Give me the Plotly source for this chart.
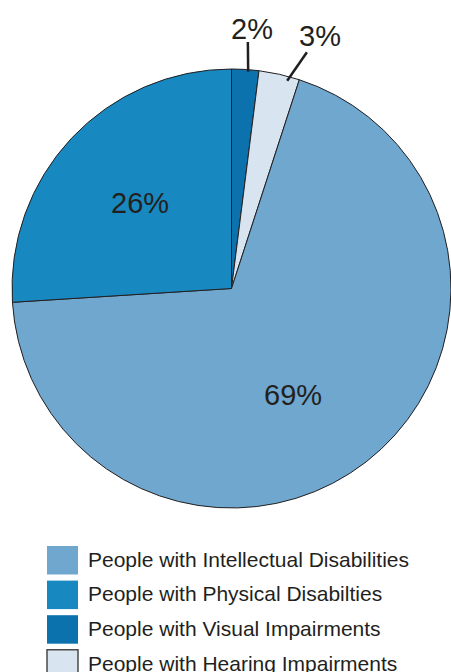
import math
import plotly.graph_objects as go

# Share of participants by type of disability (percent), clockwise from 12 o'clock
categories = [
    "People with Visual Impairments",
    "People with Hearing Impairments",
    "People with Intellectual Disabilities",
    "People with Physical Disabilties",
]
shares = [2, 3, 69, 26]
colors = ["#0b72ad", "#d8e5f1", "#6fa7cf", "#1888c0"]

# Order in which the key lists the groups
legend_order = [
    "People with Intellectual Disabilities",
    "People with Physical Disabilties",
    "People with Visual Impairments",
    "People with Hearing Impairments",
]

W, H = 451, 672
INK = "#231f20"
FONT = "Liberation Sans, Arial, Helvetica, sans-serif"

# Pie placement in pixels
PIE_LEFT, PIE_RIGHT, PIE_TOP, PIE_BOTTOM = 12, 451, 68, 509
cx = (PIE_LEFT + PIE_RIGHT) / 2
cy = (PIE_TOP + PIE_BOTTOM) / 2
R = min(PIE_RIGHT - PIE_LEFT, PIE_BOTTOM - PIE_TOP) / 2


def px(x):
    return x / W


def py(y):
    return 1 - y / H


def polar(angle_deg, r):
    a = math.radians(angle_deg)
    return cx + r * math.sin(a), cy - r * math.cos(a)


fig = go.Figure(
    go.Pie(
        labels=categories,
        values=shares,
        sort=False,
        direction="clockwise",
        rotation=0,
        marker=dict(colors=colors, line=dict(color=INK, width=1)),
        textinfo="none",
        hoverinfo="label+percent",
        domain=dict(x=[px(PIE_LEFT), px(PIE_RIGHT)], y=[py(PIE_BOTTOM), py(PIE_TOP)]),
    )
)

# Label placement: (angle offset from slice middle, radius as fraction of R)
label_place = {
    "People with Visual Impairments": (1.0, 1.185),
    "People with Hearing Impairments": (6.7, 1.22),
    "People with Intellectual Disabilities": (7.8, 0.56),
    "People with Physical Disabilties": (0.0, 0.57),
}
# Leader lines for the thin slices: (inner offset, inner r, outer offset, outer r)
leaders = {
    "People with Visual Impairments": (0.8, 0.99, 0.2, 1.125),
    "People with Hearing Impairments": (2.4, 0.98, 5.1, 1.13),
}

total = sum(shares)
annotations = []
shapes = []
start = 0.0
for name, v in zip(categories, shares):
    span = 360.0 * v / total
    mid = start + span / 2
    d, rf = label_place[name]
    lx, ly = polar(mid + d, rf * R)
    annotations.append(
        dict(
            x=px(lx), y=py(ly), xref="paper", yref="paper",
            text=f"{round(100 * v / total)}%", showarrow=False,
            font=dict(family=FONT, size=29, color=INK),
            xanchor="center", yanchor="middle",
        )
    )
    if name in leaders:
        d1, r1, d2, r2 = leaders[name]
        x1, y1 = polar(mid + d1, r1 * R)
        x2, y2 = polar(mid + d2, r2 * R)
        shapes.append(
            dict(type="line", xref="paper", yref="paper",
                 x0=px(x1), y0=py(y1), x1=px(x2), y1=py(y2),
                 line=dict(color=INK, width=2.5))
        )
    start += span

# Key below the pie
color_of = dict(zip(categories, colors))
KEY_X0, KEY_X1 = 47, 78
KEY_TOP, KEY_PITCH, KEY_H = 546, 34.6, 28.5
for i, name in enumerate(legend_order):
    top = KEY_TOP + i * KEY_PITCH
    bordered = name == "People with Hearing Impairments"
    shapes.append(
        dict(type="rect", xref="paper", yref="paper",
             x0=px(KEY_X0), x1=px(KEY_X1), y0=py(top + KEY_H), y1=py(top),
             fillcolor=color_of[name],
             line=dict(color="#4a4a4a" if bordered else color_of[name],
                       width=1.5 if bordered else 0))
    )
    annotations.append(
        dict(x=px(86), y=py(top + KEY_H / 2 - 1), xref="paper", yref="paper",
             text=name, showarrow=False, xanchor="left", yanchor="middle",
             font=dict(family=FONT, size=21, color=INK))
    )

fig.update_layout(
    width=W, height=H,
    margin=dict(l=0, r=0, t=0, b=0),
    paper_bgcolor="white", plot_bgcolor="white",
    showlegend=False,
    annotations=annotations,
    shapes=shapes,
)

fig.write_html("out.html")
